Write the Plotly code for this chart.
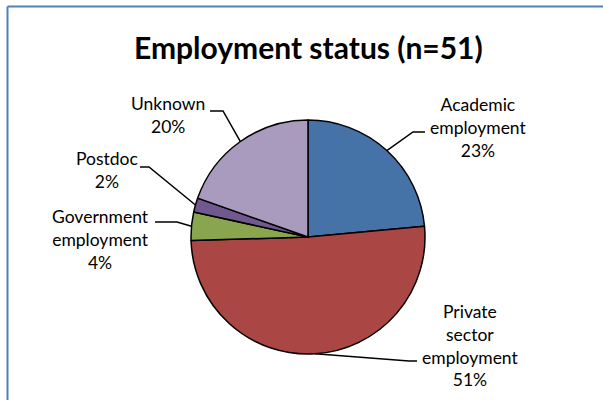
import math
import plotly.graph_objects as go

# ---- data ----
categories = ["Academic employment", "Private sector employment",
              "Government employment", "Postdoc", "Unknown"]
label_lines = ["Academic<br>employment", "Private<br>sector<br>employment",
               "Government<br>employment", "Postdoc", "Unknown"]
counts = [12, 26, 2, 1, 10]
pct_labels = ["23%", "51%", "4%", "2%", "20%"]
colors = ["#4572A7", "#AA4643", "#89A54E", "#71588F", "#A99BBD"]

# ---- layout (pixels, origin top-left) ----
W, H = 603, 400
CX, CY, R = 308, 237, 117
# label centre, leader elbow, leader end (px)
label_pos = [(478, 127), (470, 345), (101, 239), (107, 170), (168, 115)]
elbows = [(413, 132), (409, 361), (177, 222), (149, 167), (223, 111)]
ends = [(425, 132), (417, 361), (155, 222), (140, 167), (210, 111)]

FONT = "Lato"

def px(x, y):
    return x / W, 1 - y / H

total = sum(counts)
fig = go.Figure(go.Pie(
    labels=categories, values=counts, sort=False, direction="clockwise",
    rotation=0, textinfo="none", hoverinfo="label+percent",
    marker=dict(colors=colors, line=dict(color="black", width=1.5)),
    domain=dict(x=[(CX - R) / W, (CX + R) / W],
                y=[(H - CY - R) / H, (H - CY + R) / H]),
    showlegend=False,
))

shapes = []
annotations = []
cum = 0
for i, v in enumerate(counts):
    mid = (cum + v / 2) / total * 2 * math.pi
    cum += v
    ex, ey = CX + R * math.sin(mid), CY - R * math.cos(mid)
    pts = [(ex, ey), elbows[i], ends[i]]
    path = "M " + " L ".join(f"{px(x, y)[0]},{px(x, y)[1]}" for x, y in pts)
    shapes.append(dict(type="path", xref="paper", yref="paper", path=path,
                       line=dict(color="black", width=1.5)))
    lx, ly = px(*label_pos[i])
    annotations.append(dict(
        text=f"{label_lines[i]}<br>{pct_labels[i]}", x=lx, y=ly,
        xref="paper", yref="paper",
        xanchor="center", yanchor="middle", align="center", showarrow=False,
        font=dict(family=FONT, size=17.5, color="black")))

annotations.append(dict(
    text="<b>Employment status (n=51)</b>", x=px(308, 47)[0], y=px(308, 47)[1],
    xref="paper", yref="paper", xanchor="center", yanchor="middle", showarrow=False,
    font=dict(family=FONT, size=30, color="black")))

# chart border (top and left edges visible)
shapes.append(dict(type="line", xref="paper", yref="paper",
                   x0=px(7.5, 6.5)[0], y0=px(7.5, 6.5)[1], x1=1, y1=px(7.5, 6.5)[1],
                   line=dict(color="#4F81BD", width=2)))
shapes.append(dict(type="line", xref="paper", yref="paper",
                   x0=px(7.5, 6.5)[0], y0=px(7.5, 6.5)[1], x1=px(7.5, 6.5)[0], y1=0,
                   line=dict(color="#4F81BD", width=2)))

fig.update_layout(
    width=W, height=H, margin=dict(l=0, r=0, t=0, b=0),
    paper_bgcolor="white", plot_bgcolor="white",
    shapes=shapes, annotations=annotations,
)
fig.write_html("out.html", config={"displayModeBar": False},
               post_script="document.body.style.margin='0';document.body.style.overflow='hidden';")
